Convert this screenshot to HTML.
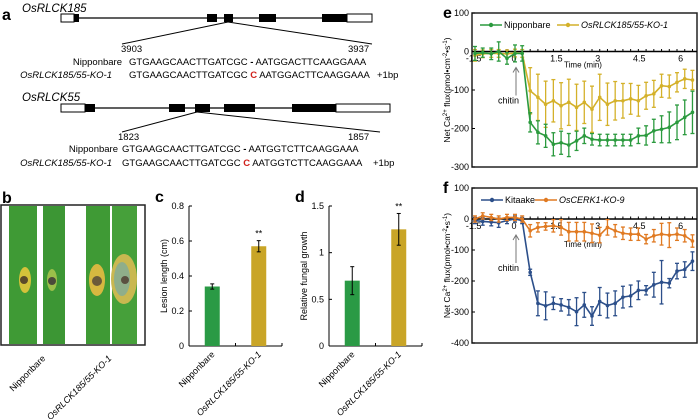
<!DOCTYPE html>
<html><head><meta charset="utf-8"><style>
body{margin:0;background:#fff;}
svg{display:block;font-family:"Liberation Sans",sans-serif;}
</style></head><body>
<svg id="fig" width="698" height="419" viewBox="0 0 698 419" xmlns="http://www.w3.org/2000/svg">
<g>
<text x="2" y="20" font-size="16" font-weight="bold">a</text>
<text x="22" y="12" font-size="11.5" font-style="italic">OsRLCK185</text>
<line x1="61" y1="18" x2="372" y2="18" stroke="#000" stroke-width="1.2"/>
<rect x="61" y="14" width="13" height="8" fill="#fff" stroke="#000"/>
<rect x="74" y="14" width="5" height="8" fill="#000"/>
<rect x="207" y="14" width="10" height="8" fill="#000"/>
<rect x="224" y="14" width="9" height="8" fill="#000"/>
<rect x="259" y="14" width="17" height="8" fill="#000"/>
<rect x="322" y="14" width="25" height="8" fill="#000"/>
<rect x="347" y="14" width="25" height="8" fill="#fff" stroke="#000"/>
<line x1="228" y1="22" x2="122" y2="44" stroke="#000"/><line x1="228" y1="22" x2="372" y2="44" stroke="#000"/>
<text x="121" y="52" font-size="9.5">3903</text><text x="348" y="52" font-size="9.5">3937</text>
<text x="122" y="65" font-size="9.5" text-anchor="end">Nipponbare</text>
<text x="129" y="65" font-size="9.5">GTGAAGCAACTTGATCGC <tspan font-weight="bold">-</tspan> AATGGACTTCAAGGAAA</text>
<text x="112" y="78" font-size="9.5" font-style="italic" text-anchor="end">OsRLCK185/55-KO-1</text>
<text x="129" y="78" font-size="9.5">GTGAAGCAACTTGATCGC <tspan fill="#d0201a" font-weight="bold">C</tspan> AATGGACTTCAAGGAAA</text>
<text x="377" y="78" font-size="9.5">+1bp</text>
<text x="22" y="101" font-size="11.5" font-style="italic">OsRLCK55</text>
<line x1="61" y1="108" x2="390" y2="108" stroke="#000" stroke-width="1.2"/>
<rect x="61" y="104" width="24" height="8" fill="#fff" stroke="#000"/>
<rect x="85" y="104" width="10" height="8" fill="#000"/>
<rect x="169" y="104" width="16" height="8" fill="#000"/>
<rect x="195" y="104" width="15" height="8" fill="#000"/>
<rect x="224" y="104" width="31" height="8" fill="#000"/>
<rect x="292" y="104" width="44" height="8" fill="#000"/>
<rect x="336" y="104" width="54" height="8" fill="#fff" stroke="#000"/>
<line x1="197" y1="112" x2="122" y2="132" stroke="#000"/><line x1="197" y1="112" x2="380" y2="132" stroke="#000"/>
<text x="118" y="140" font-size="9.5">1823</text><text x="348" y="140" font-size="9.5">1857</text>
<text x="118" y="152" font-size="9.5" text-anchor="end">Nipponbare</text>
<text x="122" y="152" font-size="9.5">GTGAAGCAACTTGATCGC <tspan font-weight="bold">-</tspan> AATGGTCTTCAAGGAAA</text>
<text x="112" y="166" font-size="9.5" font-style="italic" text-anchor="end">OsRLCK185/55-KO-1</text>
<text x="122" y="166" font-size="9.5">GTGAAGCAACTTGATCGC <tspan fill="#d0201a" font-weight="bold">C</tspan> AATGGTCTTCAAGGAAA</text>
<text x="373" y="166" font-size="9.5">+1bp</text>
</g>
<g>
<text x="2" y="203" font-size="16" font-weight="bold">b</text>
<rect x="1" y="205" width="144" height="140" fill="#fff" stroke="#222" stroke-width="1.5"/>
<rect x="9" y="206" width="28" height="138" fill="#3f9a35"/>
<rect x="43" y="206" width="22" height="138" fill="#3c9634"/>
<rect x="86" y="206" width="24" height="138" fill="#3f9a35"/>
<rect x="112" y="206" width="25" height="138" fill="#46a03a"/>
<ellipse cx="25" cy="280" rx="6" ry="13" fill="#d4c23a"/><circle cx="24" cy="280" r="4" fill="#5b4a2a"/>
<ellipse cx="52" cy="280" rx="5" ry="11" fill="#9bbf4a"/><circle cx="52" cy="281" r="4" fill="#4a4a3a"/>
<ellipse cx="97" cy="280" rx="8" ry="16" fill="#d7b840"/><circle cx="97" cy="281" r="5" fill="#6b5a3a"/>
<ellipse cx="124" cy="279" rx="13" ry="25" fill="#c9b850"/><ellipse cx="122" cy="279" rx="8" ry="17" fill="#8fae8a"/><circle cx="125" cy="280" r="4" fill="#5a5040"/>
<text transform="translate(46,359) rotate(-45)" font-size="9" text-anchor="end">Nipponbare</text>
<text transform="translate(112,359) rotate(-45)" font-size="9" font-style="italic" text-anchor="end">OsRLCK185/55-KO-1</text>
</g>
<g id="c"></g>
<g id="d"></g>
<g id="e"></g>
<g id="f"></g>
</svg>
<script>
const NS="http://www.w3.org/2000/svg";
const barCats=["Nipponbare","OsRLCK185/55-KO-1"];
const lesionVals=[0.34,0.57];
const lesionErr=[0.015,0.032];
const lesionTicks=[0,0.2,0.4,0.6,0.8];
const fungalVals=[0.70,1.25];
const fungalErr=[0.15,0.17];
const fungalTicks=[0,0.5,1,1.5];
const times=[-1.45,-1.17,-0.86,-0.59,-0.29,0,0.26,0.55,0.83,1.11,1.39,1.67,1.95,2.23,2.51,2.79,3.07,3.35,3.63,3.91,4.19,4.47,4.75,5.03,5.31,5.59,5.87,6.15,6.43];
const nipVals=[-5,-3,-6,0,-18,-5,-5,-184,-210,-219,-241,-237,-243,-232,-219,-228,-230,-230,-230,-230,-230,-219,-218,-206,-202,-197,-184,-171,-158];
const nipErr=[18,12,15,25,15,22,20,25,30,30,30,30,30,25,20,15,15,15,15,15,15,20,25,30,35,40,45,45,55];
const koVals=[-10,-6,-5,-5,-6,-4,-5,-102,-119,-137,-128,-141,-132,-145,-132,-150,-119,-137,-128,-128,-123,-128,-115,-110,-89,-91,-80,-71,-74];
const koErr=[15,10,10,10,10,10,10,60,60,60,55,60,60,60,55,60,60,55,50,45,40,40,35,35,30,30,25,25,25];
const eTicks=[100,0,-100,-200,-300];
const kitVals=[-5,-8,-10,-12,-5,0,-5,-172,-272,-280,-272,-277,-285,-299,-277,-313,-266,-279,-272,-252,-248,-230,-230,-212,-204,-207,-168,-163,-136];
const kitErr=[10,12,12,15,10,10,10,10,40,45,20,20,25,45,40,30,45,40,40,35,35,30,15,40,70,15,25,25,30];
const cerkVals=[0,10,5,0,5,5,0,-38,-27,-24,-22,-27,-41,-41,-41,-46,-52,-27,-38,-46,-49,-49,-65,-54,-49,-52,-49,-54,-71];
const cerkErr=[10,10,10,10,10,10,10,20,15,12,20,25,30,30,30,30,25,25,20,20,20,20,15,20,35,40,20,20,20];
const fTicks=[100,0,-100,-200,-300,-400];
const timeTicks=[-1.5,1.5,3,4.5,6];

function el(parent,tag,attrs,text){const e=document.createElementNS(NS,tag);for(const k in attrs)e.setAttribute(k,attrs[k]);if(text!==undefined)e.textContent=text;parent.appendChild(e);return e;}

function barPanel(id,label,x0,x1,y0,y1,maxV,ticks,vals,errs,ytitle,tickFmt){
  const g=document.getElementById(id);
  const ys=v=>y1-(v/maxV)*(y1-y0);
  el(g,"text",{x:x0-34,y:202,"font-size":16,"font-weight":"bold"},label);
  el(g,"line",{x1:x0,y1:y0,x2:x0,y2:y1,stroke:"#000"});
  el(g,"line",{x1:x0,y1:y1,x2:x1,y2:y1,stroke:"#000"});
  ticks.forEach(t=>{el(g,"line",{x1:x0,y1:ys(t),x2:x0+3,y2:ys(t),stroke:"#000"});
    const tl=el(g,"text",{x:x0-5,y:ys(t)+3,"font-size":9,"text-anchor":"end"},tickFmt(t));
    
    });
  const bw=(x1-x0)/2;
  const yt=el(g,"text",{transform:`translate(${x0-22},${(y0+y1)/2}) rotate(-90)`,"font-size":9,"text-anchor":"middle"},ytitle);
  
  
  const colors=["#2a9a45","#c9a527"];
  vals.forEach((v,i)=>{
    const cx=x0+bw*(i+0.5);
    const r=el(g,"rect",{x:cx-7.5,y:ys(v),width:15,height:y1-ys(v),fill:colors[i]});
    
    
    const e=errs[i];
    el(g,"line",{x1:cx,y1:ys(v+e),x2:cx,y2:ys(v-e),stroke:"#000"});
    el(g,"line",{x1:cx-2,y1:ys(v+e),x2:cx+2,y2:ys(v+e),stroke:"#000"});
    el(g,"line",{x1:cx-2,y1:ys(v-e),x2:cx+2,y2:ys(v-e),stroke:"#000"});
    if(i===1)el(g,"text",{x:cx,y:ys(v+e)-4,"font-size":9,"text-anchor":"middle"},"**");
    el(g,"line",{x1:x0+bw*(i+1),y1:y1,x2:x0+bw*(i+1),y2:y1-3,stroke:"#000"});
    const xl=el(g,"text",{transform:`translate(${cx+3},${y1+9}) rotate(-45)`,"font-size":9,"text-anchor":"end","font-style":i?"italic":"normal"},barCats[i]);
    
    
  });
}
barPanel("c","c",189,282,206,346,0.8,lesionTicks,lesionVals,lesionErr,"Lesion length (cm)",t=>t===0?"0":t.toFixed(1));
barPanel("d","d",329,422,206,346,1.5,fungalTicks,fungalVals,fungalErr,"Relative fungal growth",t=>String(t));

function linePanel(id,label,top,bot,vmax,vmin,ticks,series,legend,timeOff){
  const g=document.getElementById(id);
  const L=472,R=697,t0x=515,pxPerMin=27.6;
  const xs=t=>t0x+t*pxPerMin;
  const ys=v=>top+(vmax-v)/(vmax-vmin)*(bot-top);
  el(g,"text",{x:443,y:top+5,"font-size":16,"font-weight":"bold"},label);
  const box=el(g,"rect",{x:L,y:top,width:R-L,height:bot-top,fill:"none",stroke:"#222","stroke-width":1.5});
  
  
  ticks.forEach(t=>{el(g,"line",{x1:L,y1:ys(t),x2:L+3,y2:ys(t),stroke:"#000"});
    const tl=el(g,"text",{x:L-3,y:ys(t)+3,"font-size":9,"text-anchor":"end"},String(t));
    
    });
  const z=ys(0);
  el(g,"line",{x1:L,y1:z,x2:R,y2:z,stroke:"#000","stroke-width":1.5});
  times.forEach(t=>el(g,"line",{x1:xs(t),y1:z,x2:xs(t),y2:z-2.5,stroke:"#000"}));
  timeTicks.forEach(t=>{const tl=el(g,"text",{x:xs(t),y:z+10,"font-size":9,"text-anchor":"middle"},String(t));
    
    });
  el(g,"text",{x:514,y:z+10,"font-size":9,"text-anchor":"middle"},"0");
  const xt=el(g,"text",{x:583,y:z+timeOff,"font-size":8,"text-anchor":"middle"},"Time (min)");
  
  
  el(g,"line",{x1:516,y1:z+44,x2:516,y2:z+17,stroke:"#777"});
  el(g,"path",{d:`M513,${z+21} L516,${z+16} L519,${z+21}`,fill:"none",stroke:"#777"});
  const ch=el(g,"text",{x:498,y:z+52,"font-size":9},"chitin");
  
  
  const yt=el(g,"text",{transform:`translate(450,${(top+bot)/2}) rotate(-90)`,"font-size":8.5,"text-anchor":"middle"},"");
  
  
  yt.innerHTML='Net Ca<tspan dy="-3" font-size="6">2+</tspan><tspan dy="3"> flux(pmol•cm</tspan><tspan dy="-3" font-size="6">-2</tspan><tspan dy="3">•s</tspan><tspan dy="-3" font-size="6">-1</tspan><tspan dy="3">)</tspan>';
  series.forEach(s=>{
    const sg=el(g,"g",{});
    
    
    s.vals.forEach((v,i)=>{const x=xs(times[i]),e=s.err[i];
      el(sg,"line",{x1:x,y1:ys(v+e),x2:x,y2:ys(v-e),stroke:s.color,"stroke-width":1.3});
      el(sg,"line",{x1:x-2,y1:ys(v+e),x2:x+2,y2:ys(v+e),stroke:s.color,"stroke-width":1.3});
      el(sg,"line",{x1:x-2,y1:ys(v-e),x2:x+2,y2:ys(v-e),stroke:s.color,"stroke-width":1.3});});
    el(sg,"polyline",{points:s.vals.map((v,i)=>xs(times[i])+","+ys(v)).join(" "),fill:"none",stroke:s.color,"stroke-width":1.6});
    s.vals.forEach((v,i)=>{const p=el(sg,"circle",{cx:xs(times[i]),cy:ys(v),r:1.8,fill:s.color});
      
      });
  });
  const ly=top+12;
  legend.forEach(l=>{
    const lg=el(g,"g",{});
    
    
    el(lg,"line",{x1:l.x,y1:ly,x2:l.x+22,y2:ly,stroke:l.color,"stroke-width":1.6});
    el(lg,"circle",{cx:l.x+11,cy:ly,r:2.2,fill:l.color});
    el(lg,"text",{x:l.x+24,y:ly+3,"font-size":9,"font-style":l.italic?"italic":"normal"},l.text);
  });
}
linePanel("e","e",13,167,100,-300,eTicks,
  [{name:"osrlck-ko",vals:koVals,err:koErr,color:"#d4b12a"},{name:"nipponbare",vals:nipVals,err:nipErr,color:"#2b9a3e"}],
  [{x:480,color:"#2b9a3e",text:"Nipponbare"},{x:557,color:"#d4b12a",text:"OsRLCK185/55-KO-1",italic:true}],16);
linePanel("f","f",188,343,100,-400,fTicks,
  [{name:"kitaake",vals:kitVals,err:kitErr,color:"#2c4f8a"},{name:"oscerk1-ko",vals:cerkVals,err:cerkErr,color:"#e07a22"}],
  [{x:481,color:"#2c4f8a",text:"Kitaake"},{x:535,color:"#e07a22",text:"OsCERK1-KO-9",italic:true}],28);
</script>
</body></html>
